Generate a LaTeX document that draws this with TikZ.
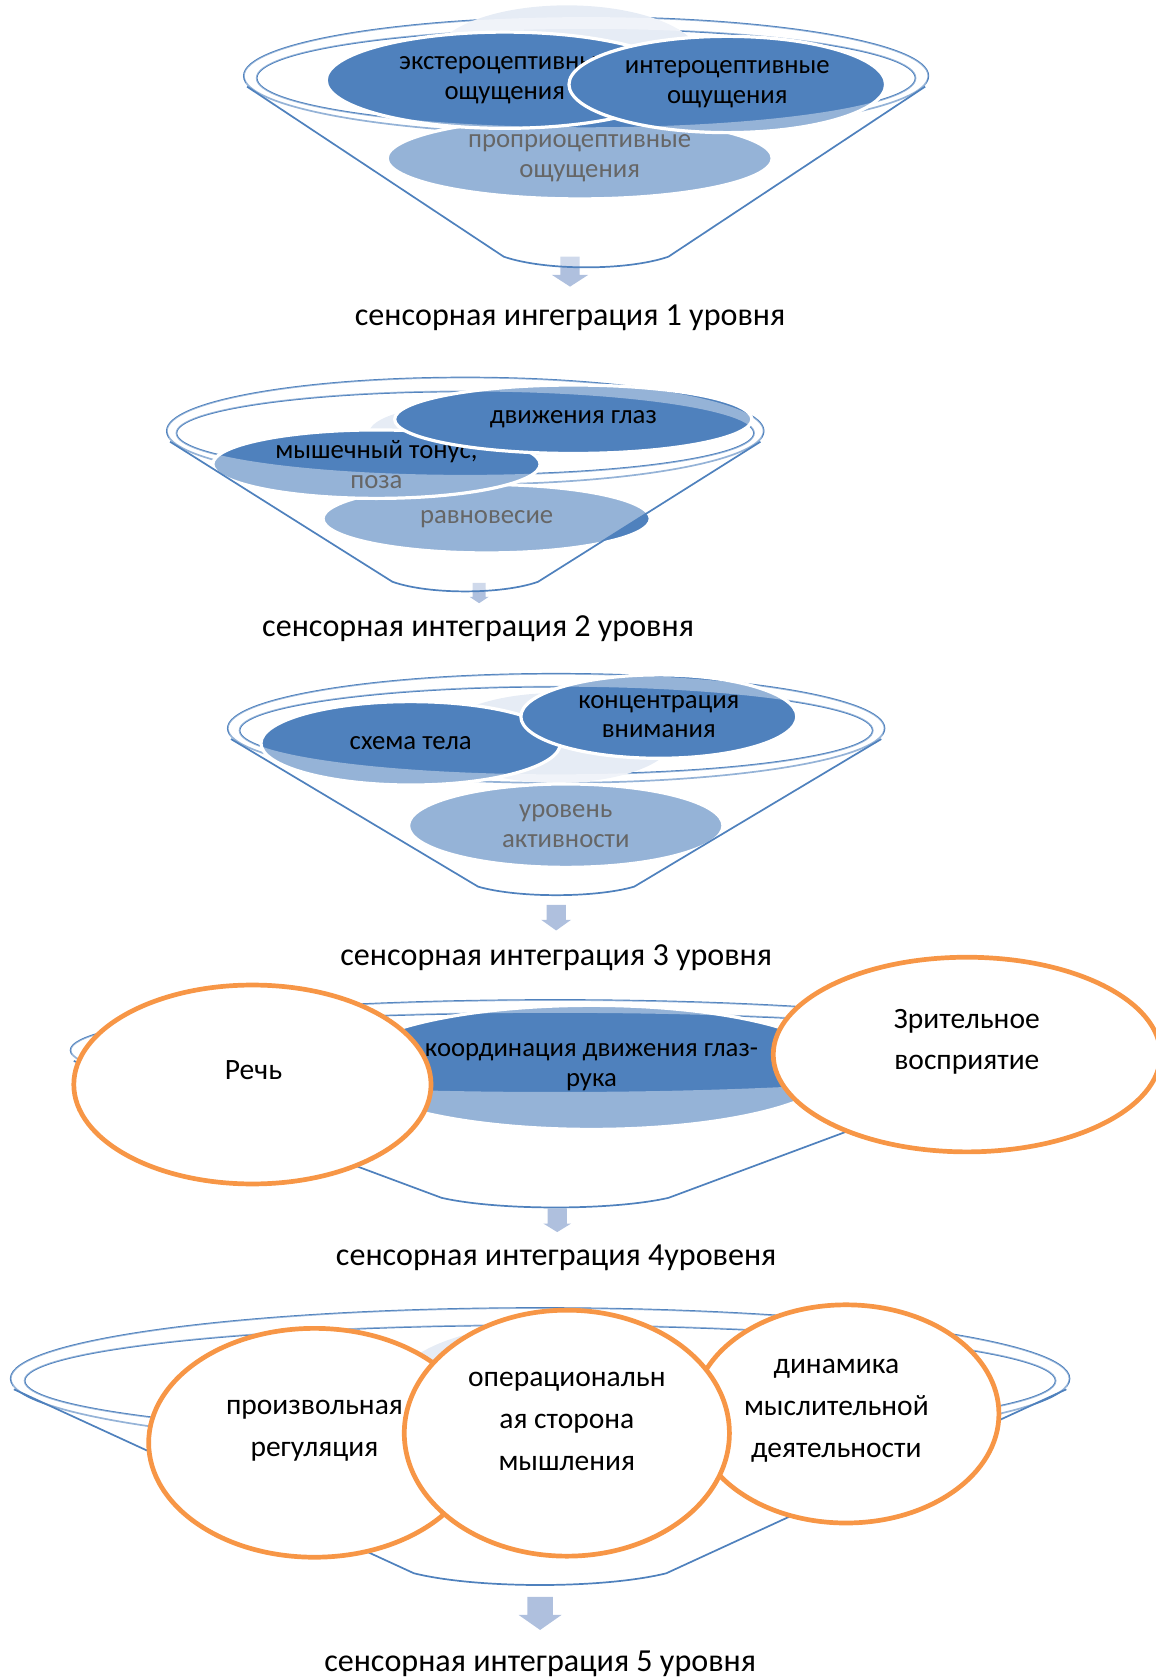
\documentclass[tikz,border=0pt]{standalone}
\usepackage{fontspec}
\setmainfont{Carlito}
\usepackage{tikz}
\definecolor{funblue}{HTML}{4F81BD}
\definecolor{funorange}{HTML}{F79646}
\definecolor{funarrow}{HTML}{AFC0DE}
\definecolor{funfaint}{HTML}{E6ECF5}
\usetikzlibrary{shapes.geometric}

\tikzset{
  blob/.style={ellipse,fill=funblue,draw=white,line width=1.5pt,inner sep=0pt,align=center,font=\fontsize{12.5}{14}\selectfont},
  faint/.style={ellipse,fill=funfaint,inner sep=0pt},
  ring/.style={ellipse,draw=funorange,line width=2.2pt,fill=white,inner sep=0pt},
  ringtext/.style={align=center,font=\fontsize{13.8}{19.5}\selectfont},
  levtext/.style={font=\fontsize{15}{17}\selectfont},
  rim/.style={draw=funblue,line width=0.8pt},
  veil/.style={fill=white,fill opacity=0.4}
}

% one funnel: centre x, centre y, outer radii, inner radii, bottom y, bottom half width, sag
\newcommand{\setfunnel}[9]{\def\fcx{#1}\def\fcy{#2}\def\frxo{#3}\def\fryo{#4}\def\frxi{#5}\def\fryi{#6}\def\fby{#7}\def\fbw{#8}\def\fsag{#9}}
\newcommand{\funnelrim}{%
  \draw[rim] (\fcx,\fcy) ellipse [x radius=\frxo, y radius=\fryo];
  \draw[rim] (\fcx,{\fcy+2}) ellipse [x radius=\frxi, y radius=\fryi];
}
\newcommand{\funnelbody}{%
  \fill[veil,even odd rule] ({\fcx-\frxo},\fcy)
    .. controls ({\fcx-\frxo},{\fcy-0.552*\fryo}) and ({\fcx-0.552*\frxo},{\fcy-\fryo}) .. (\fcx,{\fcy-\fryo})
    .. controls ({\fcx+0.552*\frxo},{\fcy-\fryo}) and ({\fcx+\frxo},{\fcy-0.552*\fryo}) .. ({\fcx+\frxo},\fcy)
    -- ({\fcx+\frxo-3},{\fcy+10}) -- ({\fcx+\fbw},\fby)
    .. controls ({\fcx+0.5*\fbw},{\fby+1.33*\fsag}) and ({\fcx-0.5*\fbw},{\fby+1.33*\fsag}) .. ({\fcx-\fbw},\fby)
    -- ({\fcx-\frxo+3},{\fcy+10}) -- cycle
    (\fcx,{\fcy+2}) ellipse [x radius=\frxi, y radius=\fryi];
  \draw[rim] ({\fcx-\frxo+3},{\fcy+10}) -- ({\fcx-\fbw},\fby)
    .. controls ({\fcx-0.5*\fbw},{\fby+1.33*\fsag}) and ({\fcx+0.5*\fbw},{\fby+1.33*\fsag}) .. ({\fcx+\fbw},\fby)
    -- ({\fcx+\frxo-3},{\fcy+10});
}
% block arrow: x, top, head start, tip, half shaft, half head
\newcommand{\levelarrow}[6]{%
  \fill[funarrow] ({#1-#5},#2) -- ({#1+#5},#2) -- ({#1+#5},#3) -- ({#1+#6},#3)
    -- (#1,#4) -- ({#1-#6},#3) -- ({#1-#5},#3) -- cycle;
}

\begin{document}
\begin{tikzpicture}[x=0.5pt,y=-0.5pt]
\useasboundingbox (0,0) rectangle (1080,1568);

% level 1
\setfunnel{548}{71}{320}{55}{308}{46}{240}{77}{10}
\funnelrim
\node[faint, minimum width=125pt, minimum height=50pt] (faint1) at (530,55) {};
\node[blob, minimum width=180pt, minimum height=38pt] (propr) at (542,148) {проприоцептивные\\ощущения};
\node[blob, minimum width=167pt, minimum height=45pt] (extero) at (472,75) {экстероцептивные\\ощущения};
\node[blob, minimum width=148pt, minimum height=45pt] (intero) at (680,79) {интероцептивные\\ощущения};
\levelarrow{533}{240}{257}{268}{9}{17}
\funnelbody
\node[levtext, anchor=base] (lev1) at (533,304) {сенсорная ингеграция 1 уровня};

% level 2
\setfunnel{435}{403}{279}{50}{270}{39}{544}{68}{9}
\funnelrim
\node[faint, minimum width=95pt, minimum height=27pt] (faint2) at (440,405) {};
\node[blob, minimum width=153pt, minimum height=32pt] (balance) at (455,485) {равновесие};
\node[blob, minimum width=153pt, minimum height=32pt] (tonus) at (352,434) {мышечный тонус,\\поза};
\node[blob, minimum width=167pt, minimum height=32pt] (eyes) at (536,392) {движения глаз};
\levelarrow{448}{545}{558}{564}{6}{9}
\funnelbody
\node[levtext, anchor=base] (lev2) at (447,595) {сенсорная интеграция 2 уровня};

% level 3
\setfunnel{520}{681}{307}{51}{296}{41}{829}{73}{8}
\funnelrim
\node[faint, minimum width=110pt, minimum height=42pt] (faint3) at (520,690) {};
\node[blob, minimum width=147pt, minimum height=39pt] (activity) at (529,772) {уровень\\активности};
\node[blob, minimum width=140pt, minimum height=39pt] (scheme) at (384,695) {схема тела};
\node[blob, minimum width=129pt, minimum height=39pt] (attention) at (616,670) {концентрация\\внимания};
\levelarrow{520}{846}{860}{870}{9}{14}
\funnelbody
\node[levtext, anchor=base] (lev3) at (520,903) {сенсорная интеграция 3 уровня};

% level 4
\setfunnel{519}{982}{453}{47}{440}{37}{1120}{106}{9}
\funnelrim
\node[blob, minimum width=230pt, minimum height=58pt] (handeye) at (553,998) {координация движения глаз-\\рука};
\levelarrow{521}{1130}{1144}{1152}{9}{13}
\funnelbody
\node[ring, minimum width=167pt, minimum height=93pt] (speech) at (236,1014) {};
\node[ringtext] (tspeech) at (237,1001) {Речь};
\node[ring, minimum width=181pt, minimum height=91pt] (vision) at (904,986) {};
\node[ringtext] (tvision) at (904,974) {Зрительное\\восприятие};
\node[levtext, anchor=base] (lev4) at (520,1183) {сенсорная интеграция 4уровеня};

% level 5
\setfunnel{505}{1289}{495}{66}{482}{52}{1471}{118}{11}
\funnelrim
\node[faint, minimum width=140pt, minimum height=70pt] (faint5) at (500,1310) {};
\levelarrow{505}{1493}{1510}{1524}{12}{20}
\funnelbody
\node[ring, minimum width=155pt, minimum height=107pt] (regul) at (294,1349) {};
\node[ring, minimum width=143pt, minimum height=102pt] (dynam) at (791,1322) {};
\node[ring, minimum width=152pt, minimum height=115pt] (operat) at (530,1340) {};
\node[ringtext] (tregul) at (294,1338) {произвольная\\регуляция};
\node[ringtext] (tdynam) at (782,1319) {динамика\\мыслительной\\деятельности};
\node[ringtext] (toperat) at (530,1329) {операциональн\\ая сторона\\мышления};
\node[levtext, anchor=base] (lev5) at (505,1563) {сенсорная интеграция 5 уровня};
\end{tikzpicture}
\end{document}
